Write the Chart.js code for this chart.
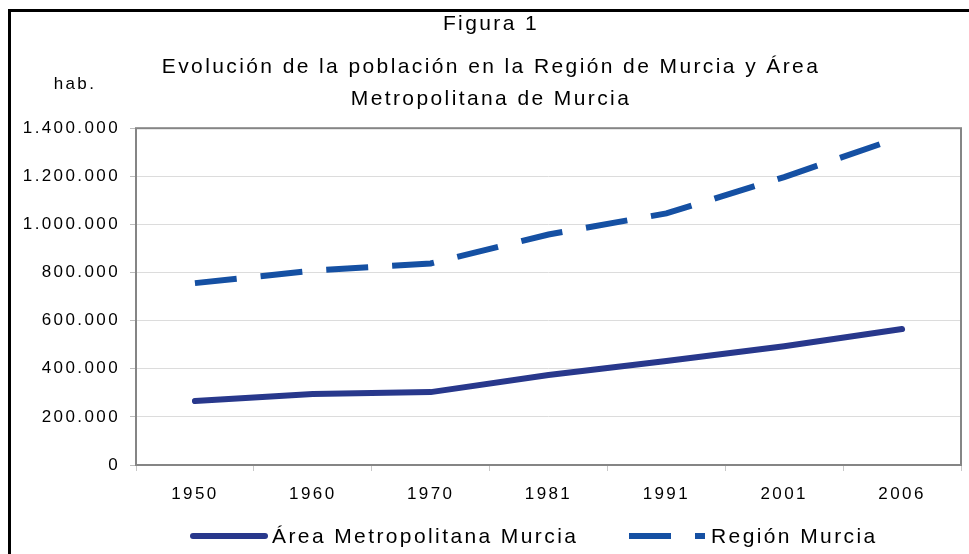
<!DOCTYPE html>
<html>
<head>
<meta charset="utf-8">
<script src="https://cdn.jsdelivr.net/npm/chart.js@4.4.0/dist/chart.umd.min.js"></script>
<style>
  html, body { margin: 0; padding: 0; background: #fff; overflow: hidden; }
  #wrap { position: relative; width: 969px; height: 554px; }
  #frame { position: absolute; left: 8px; top: 9px; width: 1000px; height: 600px;
           border: 3px solid #000; pointer-events: none; }
</style>
</head>
<body>
<div id="wrap">
  <canvas id="popChart" width="969" height="554"></canvas>
  <div id="frame"></div>
</div>
<script>
const years = ['1950', '1960', '1970', '1981', '1991', '2001', '2006'];
const areaMetro = [266000, 295000, 303000, 374000, 432000, 494000, 565000];
const regionMurcia = [756000, 808000, 838000, 958000, 1046000, 1197000, 1365000];
const seriesNames = ['Área Metropolitana Murcia', 'Región Murcia'];
const yMax = 1400000;
const yStep = 200000;

const FONT = '"Liberation Sans", Arial, sans-serif';
const SPACING = '2.4px';

// format 1400000 -> 1.400.000
function fmt(v) {
  return String(v).replace(/\B(?=(\d{3})+(?!\d))/g, '.');
}

const extras = {
  id: 'extras',
  beforeUpdate(chart) { chart.ctx.letterSpacing = SPACING; },
  beforeDraw(chart) { chart.ctx.letterSpacing = SPACING; },
  afterDraw(chart) {
    const ctx = chart.ctx;
    const a = chart.chartArea;
    ctx.save();
    ctx.letterSpacing = SPACING;

    // plot frame
    ctx.strokeStyle = '#858585';
    ctx.lineWidth = 2;
    ctx.setLineDash([]);
    ctx.strokeRect(a.left, a.top, a.right - a.left, a.bottom - a.top);

    // units label
    ctx.fillStyle = '#000';
    ctx.font = '17px ' + FONT;
    ctx.textAlign = 'center';
    ctx.textBaseline = 'middle';
    ctx.fillText('hab.', 75, 84);

    // legend
    const items = [{ x: 193, len: 72, gap: 7 }, { x: 629, len: 76, gap: 6 }];
    ctx.font = '21px ' + FONT;
    ctx.textAlign = 'left';
    const ly = 536;
    chart.data.datasets.forEach((ds, i) => {
      const it = items[i];
      ctx.strokeStyle = ds.borderColor;
      ctx.lineWidth = ds.borderWidth;
      ctx.lineCap = ds.borderCapStyle || 'butt';
      ctx.setLineDash(ds.borderDash || []);
      ctx.beginPath();
      ctx.moveTo(it.x, ly);
      ctx.lineTo(it.x + it.len, ly);
      ctx.stroke();
      ctx.fillText(ds.label, it.x + it.len + it.gap, ly + 1);
    });
    ctx.restore();
  }
};

new Chart(document.getElementById('popChart'), {
  type: 'line',
  data: {
    labels: years,
    datasets: [
      {
        label: seriesNames[0],
        data: areaMetro,
        borderColor: '#28388c',
        borderWidth: 6,
        borderCapStyle: 'round',
        borderJoinStyle: 'round',
        pointRadius: 0,
        tension: 0
      },
      {
        label: seriesNames[1],
        data: regionMurcia,
        borderColor: '#1550a3',
        borderWidth: 6,
        borderDash: [42, 24],
        borderCapStyle: 'butt',
        pointRadius: 0,
        tension: 0
      }
    ]
  },
  options: {
    responsive: false,
    animation: false,
    devicePixelRatio: 1,
    layout: { padding: { top: 12, left: 21, right: 8, bottom: 49 } },
    plugins: {
      legend: { display: false },
      tooltip: { enabled: false },
      title: {
        display: true,
        text: 'Figura 1',
        color: '#000',
        font: { family: FONT, size: 21, weight: 'normal', lineHeight: 1.2 },
        padding: { top: 0, bottom: 14 }
      },
      subtitle: {
        display: true,
        text: ['Evolución de la población en la Región de Murcia y Área', 'Metropolitana de Murcia'],
        color: '#000',
        font: { family: FONT, size: 21, weight: 'normal', lineHeight: 1.524 },
        padding: { top: 0, bottom: 13 }
      }
    },
    scales: {
      x: {
        offset: true,
        afterFit(scale) { scale.height = 40; },
        grid: {
          offset: true,
          drawOnChartArea: false,
          drawTicks: true,
          tickLength: 6,
          tickColor: '#c8c8c8'
        },
        border: { display: false },
        ticks: { color: '#000', padding: 13, font: { family: FONT, size: 17 } }
      },
      y: {
        min: 0,
        max: yMax,
        afterFit(scale) { scale.width = 115; },
        grid: { color: '#dcdcdc', lineWidth: 1, tickLength: 6, tickColor: '#bdbdbd' },
        border: { display: false },
        ticks: {
          stepSize: yStep,
          color: '#000',
          padding: 10,
          font: { family: FONT, size: 17 },
          callback: v => fmt(v)
        }
      }
    }
  },
  plugins: [extras]
});
</script>
</body>
</html>
